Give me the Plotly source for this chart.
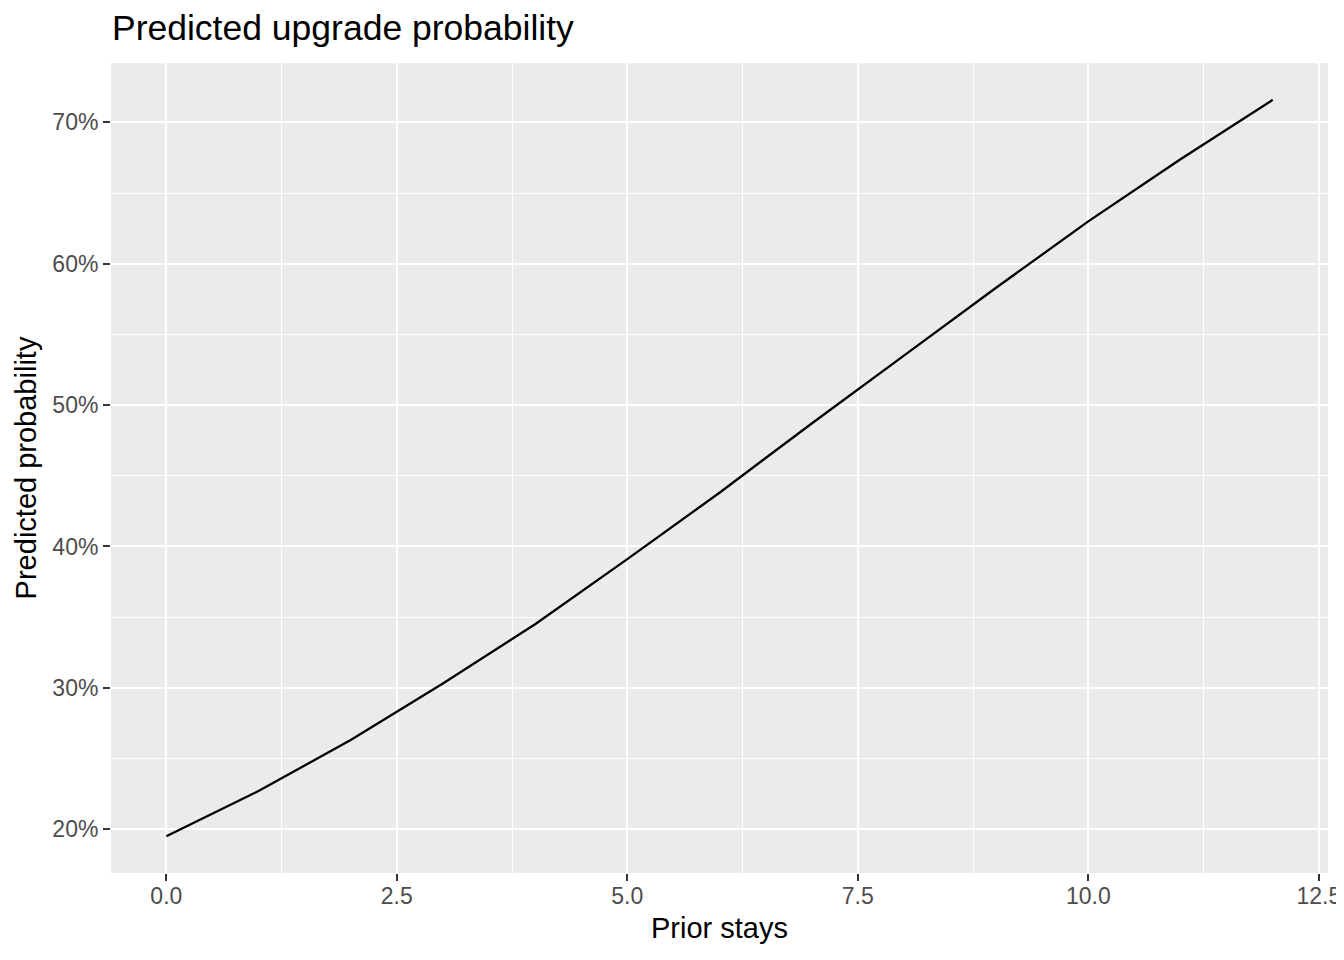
import plotly.graph_objects as go

prior_stays = [0, 1, 2, 3, 4, 5, 6, 7, 8, 9, 10, 11, 12]
pred_prob = [0.195, 0.227, 0.263, 0.303, 0.345, 0.391, 0.438, 0.487, 0.535, 0.583, 0.630, 0.674, 0.716]

x_ticks = [0, 2.5, 5, 7.5, 10, 12.5]
x_labels = ["0.0", "2.5", "5.0", "7.5", "10.0", "12.5"]
y_ticks = [0.2, 0.3, 0.4, 0.5, 0.6, 0.7]
y_labels = ["20%", "30%", "40%", "50%", "60%", "70%"]

FONT = "Liberation Sans, Arial, sans-serif"
W, H = 1336, 944

fig = go.Figure()
fig.add_trace(go.Scatter(x=prior_stays, y=pred_prob, mode="lines",
                         line=dict(color="black", width=2.3), showlegend=False))

xr = [-0.6, 12.6]
ymin, ymax = min(pred_prob), max(pred_prob)
pad = (ymax - ymin) * 0.05
yr = [ymin - pad, ymax + pad]

fig.update_layout(
    width=W, height=H,
    margin=dict(l=103, r=16, t=55, b=79),
    paper_bgcolor="white", plot_bgcolor="#EBEBEB",
    font=dict(family=FONT, color="black"),
    title=dict(text="Predicted upgrade probability", x=104/W, xanchor="left",
               y=1 - 20/H, yanchor="middle", font=dict(size=35.5, color="black")),
)
fig.update_xaxes(
    range=xr, tickvals=x_ticks, ticktext=x_labels, showgrid=True, automargin=False,
    gridcolor="white", gridwidth=2.2, zeroline=False, showline=False,
    ticks="outside", ticklen=7, tickwidth=2, tickcolor="#333333",
    tickfont=dict(size=23, color="#4D4D4D"), ticklabelstandoff=-5,
    minor=dict(tickvals=[1.25, 3.75, 6.25, 8.75, 11.25], showgrid=True,
               gridcolor="white", gridwidth=1.1, ticks=""),
    title=dict(text="Prior stays", font=dict(size=29, color="black"), standoff=10),
)
fig.update_yaxes(
    range=yr, tickvals=y_ticks, ticktext=y_labels, showgrid=True, automargin=False,
    gridcolor="white", gridwidth=2.2, zeroline=False, showline=False,
    ticks="outside", ticklen=7, tickwidth=2, tickcolor="#333333",
    tickfont=dict(size=23, color="#4D4D4D"),
    minor=dict(tickvals=[0.15, 0.25, 0.35, 0.45, 0.55, 0.65], showgrid=True,
               gridcolor="white", gridwidth=1.1, ticks=""),
    title=dict(text="Predicted probability", font=dict(size=29, color="black"), standoff=7),
)

fig.write_html("out.html")
